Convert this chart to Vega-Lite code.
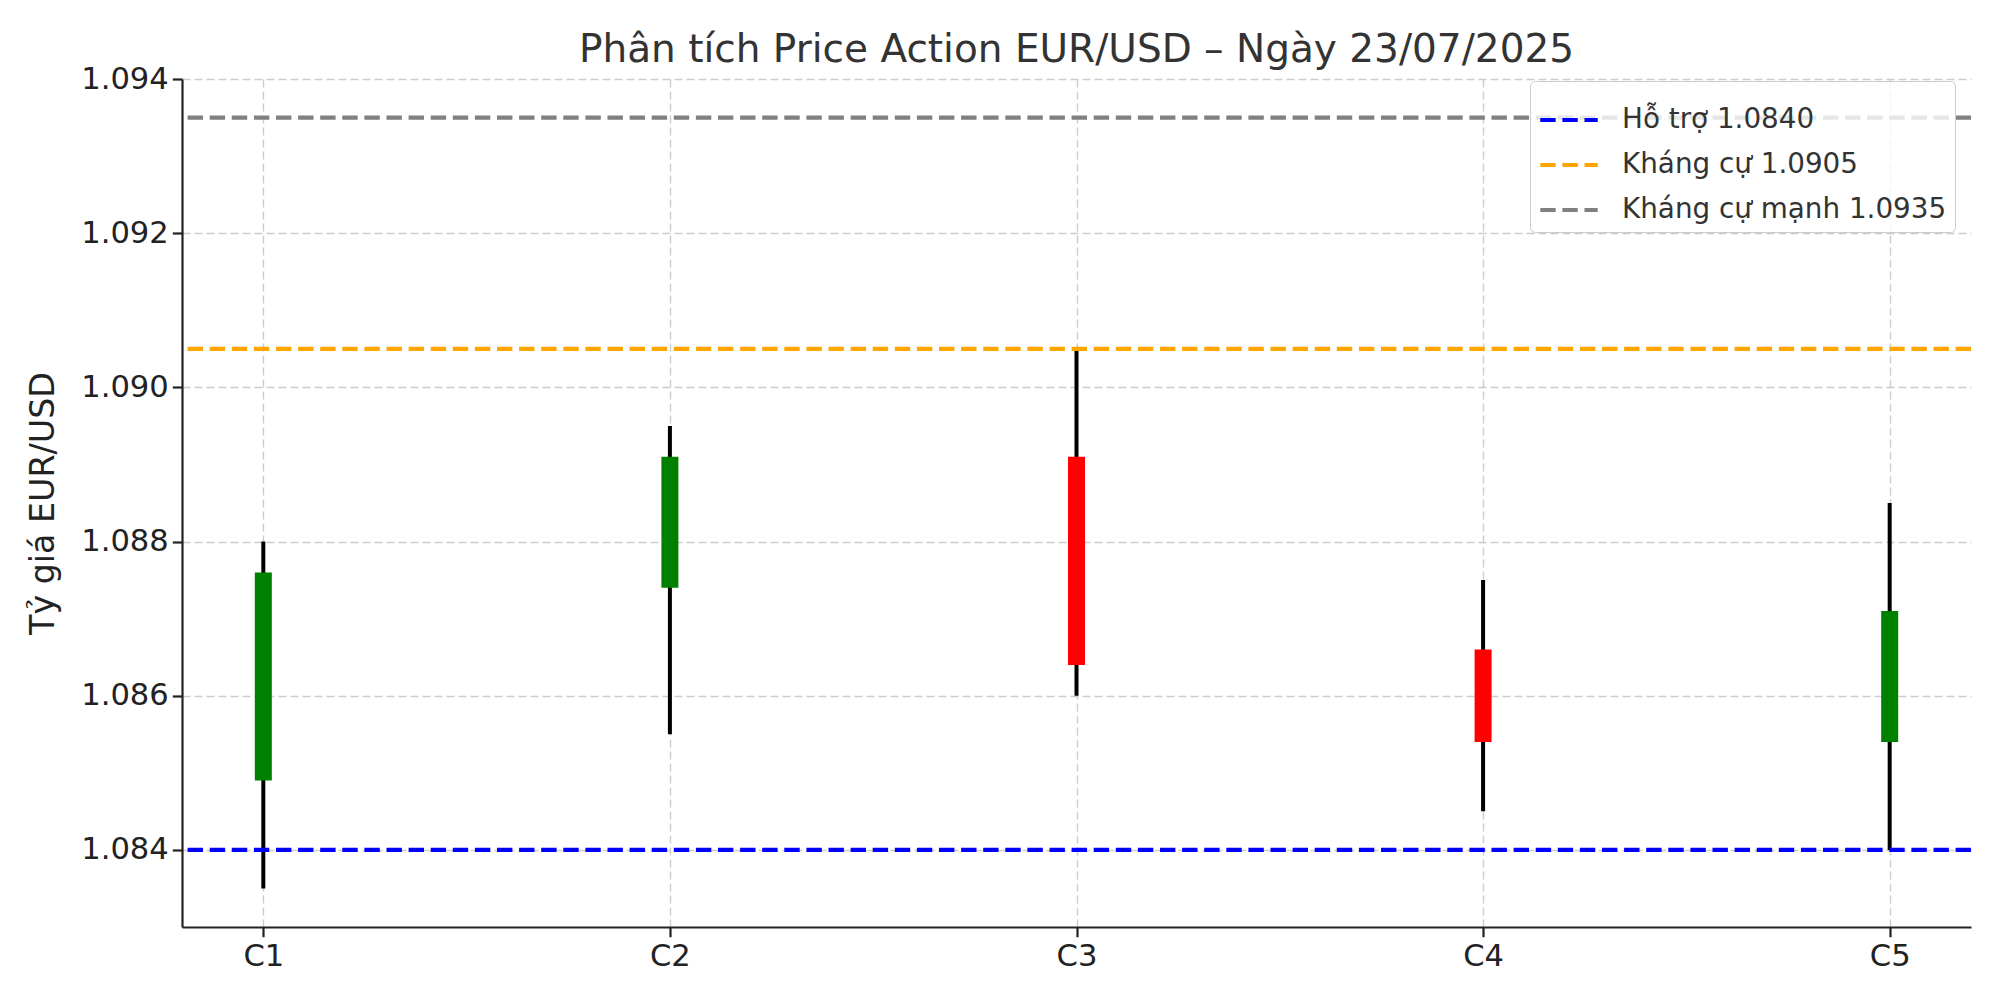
{
  "$schema": "https://vega.github.io/schema/vega-lite/v6.json",
  "width": 1789,
  "height": 848,
  "autosize": "none",
  "padding": {"left": 182, "top": 79, "right": 29, "bottom": 73},
  "background": "white",
  "title": {
    "text": "Phân tích Price Action EUR/USD – Ngày 23/07/2025",
    "font": "DejaVu Sans",
    "fontSize": 39,
    "fontWeight": "normal",
    "color": "#333333",
    "frame": "group",
    "anchor": "middle",
    "offset": -6
  },
  "datasets": {
    "candles": [
      {"c": "C1", "open": 1.0849, "close": 1.0876, "high": 1.0880, "low": 1.0835, "dir": "up"},
      {"c": "C2", "open": 1.0874, "close": 1.0891, "high": 1.0895, "low": 1.0855, "dir": "up"},
      {"c": "C3", "open": 1.0891, "close": 1.0864, "high": 1.0905, "low": 1.0860, "dir": "down"},
      {"c": "C4", "open": 1.0866, "close": 1.0854, "high": 1.0875, "low": 1.0845, "dir": "down"},
      {"c": "C5", "open": 1.0854, "close": 1.0871, "high": 1.0885, "low": 1.0840, "dir": "up"}
    ],
    "levels": [
      {"label": "Hỗ trợ 1.0840", "value": 1.0840},
      {"label": "Kháng cự 1.0905", "value": 1.0905},
      {"label": "Kháng cự mạnh 1.0935", "value": 1.0935}
    ]
  },
  "config": {
    "view": {"stroke": null},
    "axis": {
      "labelFont": "DejaVu Sans",
      "labelFontSize": 30.6,
      "labelColor": "#222222",
      "titleFont": "DejaVu Sans",
      "titleFontSize": 33.3,
      "titleFontWeight": "normal",
      "titleColor": "#222222",
      "domainColor": "#222222",
      "domainWidth": 2.2,
      "tickColor": "#222222",
      "tickWidth": 2.2,
      "tickSize": 9.7,
      "grid": true,
      "gridColor": "#cccccc",
      "gridWidth": 1.4,
      "gridDash": [8, 4]
    },
    "legend": {
      "title": null,
      "symbolType": "stroke",
      "symbolStrokeWidth": 4.2,
      "symbolDash": [15.4, 6.7],
      "symbolSize": 3300,
      "labelFont": "DejaVu Sans",
      "labelFontSize": 27.8,
      "labelColor": "#333333",
      "labelLimit": 600,
      "labelOffset": 22,
      "fillColor": "rgba(255,255,255,0.8)",
      "strokeColor": "#cccccc",
      "cornerRadius": 5,
      "padding": 8,
      "rowPadding": 0,
      "orient": "none",
      "legendX": 1348,
      "legendY": 2
    }
  },
  "encoding": {
    "x": {
      "field": "c",
      "type": "nominal",
      "scale": {"type": "point", "padding": 0.2},
      "axis": {"title": null, "labelAngle": 0, "labelPadding": 5}
    }
  },
  "layer": [
    {
      "data": {"name": "candles"},
      "mark": {"type": "rule", "color": "black", "strokeWidth": 4},
      "encoding": {
        "y": {
          "field": "low",
          "type": "quantitative",
          "scale": {"domain": [1.083, 1.094], "nice": false, "zero": false},
          "axis": {
            "title": "Tỷ giá EUR/USD",
            "values": [1.084, 1.086, 1.088, 1.09, 1.092, 1.094],
            "format": ".3f",
            "labelPadding": 4,
            "titlePadding": 20
          }
        },
        "y2": {"field": "high"}
      }
    },
    {
      "data": {"name": "candles"},
      "mark": {"type": "bar", "width": 17},
      "encoding": {
        "y": {"field": "open", "type": "quantitative"},
        "y2": {"field": "close"},
        "fill": {
          "field": "dir",
          "type": "nominal",
          "scale": {"domain": ["up", "down"], "range": ["#008000", "#ff0000"]},
          "legend": null
        }
      }
    },
    {
      "data": {"name": "levels"},
      "mark": {"type": "rule", "strokeWidth": 4.2, "strokeDash": [15.4, 6.7]},
      "encoding": {
        "x": null,
        "y": {"field": "value", "type": "quantitative"},
        "color": {
          "field": "label",
          "type": "nominal",
          "sort": null,
          "scale": {
            "domain": ["Hỗ trợ 1.0840", "Kháng cự 1.0905", "Kháng cự mạnh 1.0935"],
            "range": ["#0000ff", "#ffa500", "#808080"]
          }
        }
      }
    }
  ]
}
